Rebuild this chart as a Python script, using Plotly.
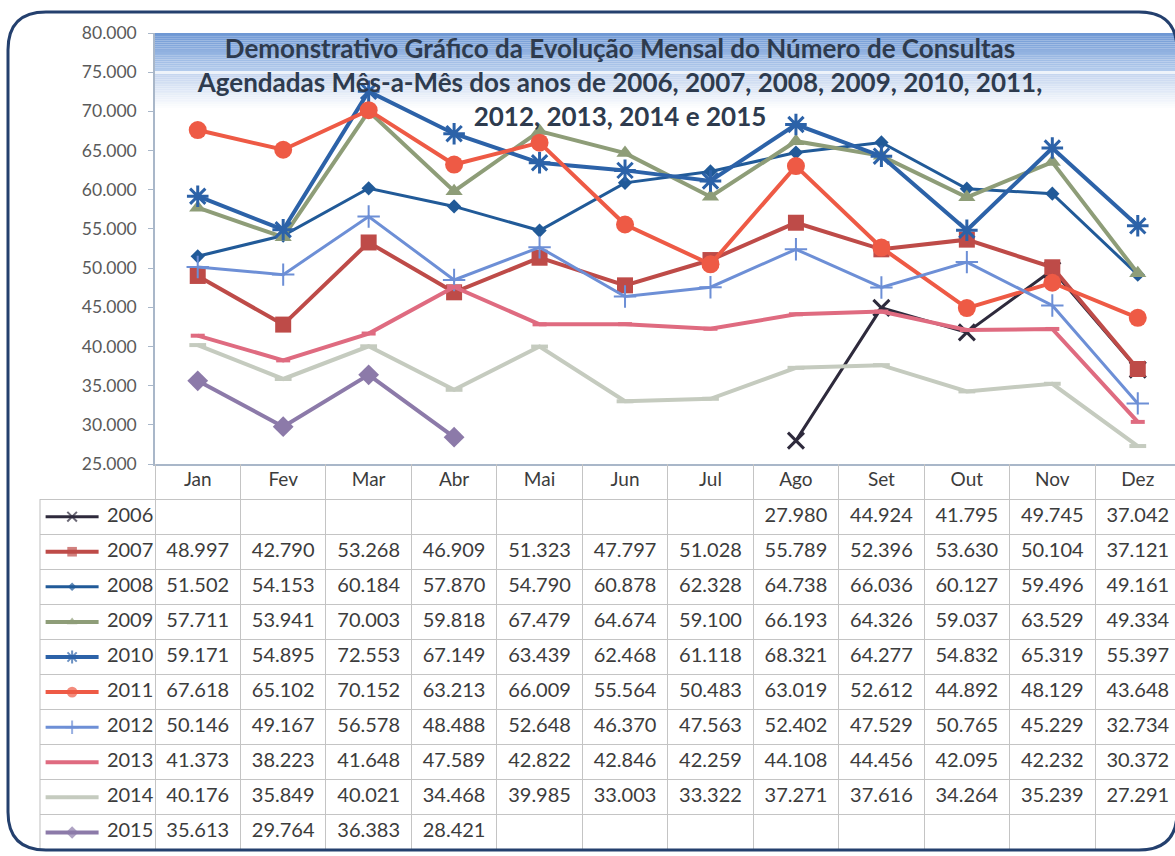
import plotly.graph_objects as go

W, H = 1175, 856

months = ["Jan", "Fev", "Mar", "Abr", "Mai", "Jun", "Jul", "Ago", "Set", "Out", "Nov", "Dez"]
years = ["2006", "2007", "2008", "2009", "2010", "2011", "2012", "2013", "2014", "2015"]

v2006 = [None, None, None, None, None, None, None, 27980, 44924, 41795, 49745, 37042]
v2007 = [48997, 42790, 53268, 46909, 51323, 47797, 51028, 55789, 52396, 53630, 50104, 37121]
v2008 = [51502, 54153, 60184, 57870, 54790, 60878, 62328, 64738, 66036, 60127, 59496, 49161]
v2009 = [57711, 53941, 70003, 59818, 67479, 64674, 59100, 66193, 64326, 59037, 63529, 49334]
v2010 = [59171, 54895, 72553, 67149, 63439, 62468, 61118, 68321, 64277, 54832, 65319, 55397]
v2011 = [67618, 65102, 70152, 63213, 66009, 55564, 50483, 63019, 52612, 44892, 48129, 43648]
v2012 = [50146, 49167, 56578, 48488, 52648, 46370, 47563, 52402, 47529, 50765, 45229, 32734]
v2013 = [41373, 38223, 41648, 47589, 42822, 42846, 42259, 44108, 44456, 42095, 42232, 30372]
v2014 = [40176, 35849, 40021, 34468, 39985, 33003, 33322, 37271, 37616, 34264, 35239, 27291]
v2015 = [35613, 29764, 36383, 28421, None, None, None, None, None, None, None, None]

series = [v2006, v2007, v2008, v2009, v2010, v2011, v2012, v2013, v2014, v2015]

y_ticks = [25000, 30000, 35000, 40000, 45000, 50000, 55000, 60000, 65000, 70000, 75000, 80000]

title_text = ("Demonstrativo Gráfico da Evolução Mensal do Número de Consultas<br>"
              "Agendadas Mês-a-Mês dos anos de 2006, 2007, 2008, 2009, 2010, 2011,<br>"
              "2012, 2013, 2014 e 2015")

styles = [
    dict(color="#2e2a3c", width=3, symbol="x-thin-open", size=16, mlw=3),
    dict(color="#be4b48", width=4, symbol="square", size=16, mlw=0),
    dict(color="#215a98", width=3, symbol="diamond", size=11, mlw=0),
    dict(color="#8e9d78", width=4, symbol="triangle-up", size=15, mlw=0),
    dict(color="#2c62a8", width=4, symbol="asterisk-open", size=18, mlw=3),
    dict(color="#ee5a45", width=4, symbol="circle", size=18, mlw=0),
    dict(color="#6d8fd6", width=3, symbol="cross-thin-open", size=16, mlw=2),
    dict(color="#df6b80", width=4, symbol="line-ew-open", size=10, mlw=4),
    dict(color="#c5cbbf", width=4, symbol="line-ew-open", size=12, mlw=4),
    dict(color="#8c7aa9", width=4, symbol="diamond", size=16, mlw=0),
]


def fx(px):
    return px / W


def fy(py):
    return 1 - py / H


FONT = "Lato"
TXT = "#3c3c3c"
TAB_SIZE = 20

fig = go.Figure()

# chart lines
for yr, vals, st in zip(years, series, styles):
    fig.add_trace(go.Scatter(
        x=months, y=vals, name=yr, mode="lines+markers",
        line=dict(color=st["color"], width=st["width"]),
        marker=dict(symbol=st["symbol"], size=st["size"], color=st["color"],
                    line=dict(color=st["color"], width=st["mlw"])),
        connectgaps=False, showlegend=False, xaxis="x", yaxis="y",
    ))

# table: month header row
fig.add_trace(go.Scatter(
    x=list(range(len(months))), y=[0] * len(months), text=months, mode="text",
    textfont=dict(family=FONT, size=19, color=TXT), showlegend=False,
    xaxis="x2", yaxis="y2", hoverinfo="skip",
))


def fmt(v):
    return f"{v:,}".replace(",", ".")


for r, (yr, vals, st) in enumerate(zip(years, series, styles), start=1):
    xs = [i for i, v in enumerate(vals) if v is not None]
    fig.add_trace(go.Scatter(
        x=xs, y=[r] * len(xs), text=[fmt(vals[i]) for i in xs], mode="text",
        textfont=dict(family=FONT, size=TAB_SIZE, color=TXT), showlegend=False,
        xaxis="x2", yaxis="y2", hoverinfo="skip",
    ))
    # legend key line + marker
    fig.add_trace(go.Scatter(
        x=[-1.78, -1.47, -1.16], y=[r, r, r], mode="lines+markers",
        line=dict(color=st["color"], width=st["width"]),
        marker=dict(symbol=st["symbol"], size=[0, max(6, st["size"] * 0.6), 0],
                    color=st["color"], line=dict(color=st["color"], width=min(st["mlw"], 2))),
        showlegend=False, xaxis="x2", yaxis="y2", hoverinfo="skip",
    ))
    fig.add_trace(go.Scatter(
        x=[-0.52], y=[r], text=[yr], mode="text", textposition="middle left",
        textfont=dict(family=FONT, size=TAB_SIZE, color=TXT), showlegend=False,
        xaxis="x2", yaxis="y2", hoverinfo="skip",
    ))

shapes = []


def lerp(c1, c2, t):
    return "#" + "".join(f"{int(round(a + (b - a) * t)):02x}" for a, b in zip(c1, c2))


# gradient band behind the title
top_c, mid_c, low_c, white = (0x6f, 0x98, 0xd4), (0xb3, 0xcb, 0xec), (0xc6, 0xd6, 0xef), (0xff, 0xff, 0xff)
n1 = 20
y0, y1 = 33, 71
for i in range(n1):
    a = y0 + (y1 - y0) * i / n1
    b = y0 + (y1 - y0) * (i + 1) / n1
    shapes.append(dict(type="rect", xref="paper", yref="paper", x0=fx(155), x1=1,
                       y0=fy(b), y1=fy(a), fillcolor=lerp(top_c, mid_c, i / (n1 - 1)),
                       line=dict(width=0), layer="below"))
shapes.append(dict(type="rect", xref="paper", yref="paper", x0=fx(155), x1=1,
                   y0=fy(74), y1=fy(71), fillcolor="#eef3fa", line=dict(width=0), layer="below"))
n2 = 20
y0, y1 = 74, 110
for i in range(n2):
    a = y0 + (y1 - y0) * i / n2
    b = y0 + (y1 - y0) * (i + 1) / n2
    shapes.append(dict(type="rect", xref="paper", yref="paper", x0=fx(155), x1=1,
                       y0=fy(b), y1=fy(a), fillcolor=lerp(low_c, white, i / (n2 - 1)),
                       line=dict(width=0), layer="below"))

# table left border
shapes.append(dict(type="line", xref="x2 domain", yref="y2", x0=0, x1=0, y0=0.5, y1=10.5,
                   line=dict(color="#bfbfbf", width=1)))

# rounded outer border
L, T, R, B, rx = 8, 12, 1177, 850, 38


def P(x, y):
    return f"{fx(x):.5f},{fy(y):.5f}"


path = (f"M {P(L + rx, T)} L {P(R - rx, T)} Q {P(R, T)} {P(R, T + rx)} "
        f"L {P(R, B - rx)} Q {P(R, B)} {P(R - rx, B)} L {P(L + rx, B)} "
        f"Q {P(L, B)} {P(L, B - rx)} L {P(L, T + rx)} Q {P(L, T)} {P(L + rx, T)} Z")
shapes.append(dict(type="path", xref="paper", yref="paper", path=path,
                   line=dict(color="#24406e", width=3), fillcolor="rgba(0,0,0,0)"))

px_per_unit = (1180.5 - 155) / 12
x_left_main = -0.5
x_right = 11.5 - (1180.5 - 1175) / px_per_unit
x_left_tab = -0.5 - (155 - 40) / px_per_unit

fig.update_layout(
    width=W, height=H,
    margin=dict(l=0, r=0, t=0, b=0, autoexpand=False),
    paper_bgcolor="white", plot_bgcolor="rgba(0,0,0,0)",
    separators=",.",
    font=dict(family=FONT, color=TXT),
    title=dict(text=title_text, x=fx(620), xanchor="center", y=fy(58), yanchor="top",
               font=dict(family=FONT, size=26, color="#2e3b4e", weight="bold")),
    xaxis=dict(domain=[fx(155), 1], range=[x_left_main, x_right], type="category",
               showticklabels=False, showgrid=False, zeroline=False,
               showline=True, linecolor="#a9b7c9", linewidth=1.5, ticks=""),
    yaxis=dict(domain=[fy(464), fy(33)], range=[25000, 80000], tickvals=y_ticks,
               tickformat=",d", showgrid=False, zeroline=False,
               showline=True, linecolor="#a9b7c9", linewidth=1.5,
               ticks="outside", ticklen=5, tickcolor="#a9b7c9",
               ticklabelstandoff=8,
               tickfont=dict(family=FONT, size=17.5, color="#5a5a5a")),
    xaxis2=dict(domain=[fx(40), 1], range=[x_left_tab, x_right],
                tickvals=[i - 0.5 for i in range(13)], showticklabels=False,
                showgrid=True, gridcolor="#c4c4c4", gridwidth=1, zeroline=False,
                showline=False, ticks=""),
    yaxis2=dict(domain=[fy(850), fy(464)], range=[10.5, -0.5],
                tickvals=[i + 0.5 for i in range(11)], showticklabels=False,
                showgrid=True, gridcolor="#c4c4c4", gridwidth=1, zeroline=False,
                showline=False, ticks=""),
    shapes=shapes,
)

fig.write_html("out.html", config={"displayModeBar": False},
               post_script="document.body.style.margin='0';document.body.style.overflow='hidden';")
